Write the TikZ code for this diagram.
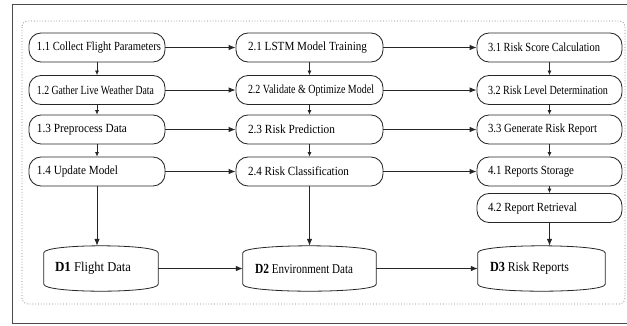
\documentclass[tikz,border=0pt]{standalone}
\usepackage{fontspec}
\setmainfont{Liberation Serif}
\usetikzlibrary{arrows.meta}
\definecolor{linec}{HTML}{262626}
\definecolor{framec}{HTML}{4A4A4A}
\newcommand\fitw[2]{\resizebox{#1bp}{\height}{#2}}
\newcommand\ta[2]{\makebox[120bp][l]{\fitw{#1}{#2}}}
\newcommand\tb[2]{\makebox[123bp][l]{\fitw{#1}{#2}}}
\newcommand\tc[2]{\makebox[123bp][l]{\fitw{#1}{#2}}}
\newcommand\dlab[4]{\makebox[#1bp][l]{\raisebox{-2.5bp}{\fitw{#2}{{\fontsize{14}{16}\selectfont\bfseries #3} #4}}}}
\newcommand\cylshape[1]{%
  \draw[linec, line width=0.8bp]
    ([yshift=-7bp]#1.north west) .. controls ([yshift=2.33bp]#1.north west) and ([yshift=2.33bp]#1.north east) .. ([yshift=-7bp]#1.north east)
    -- ([yshift=7bp]#1.south east) .. controls ([yshift=-2.33bp]#1.south east) and ([yshift=-2.33bp]#1.south west) .. ([yshift=7bp]#1.south west)
    -- cycle;}
\begin{document}
\begin{tikzpicture}[x=1bp,y=-1bp,
  proc/.style={draw=linec, line width=0.85bp, rounded corners=12bp, minimum height=29bp, inner ysep=0pt, font=\fontsize{12.5}{14}\selectfont, text=black},
  colA/.style={proc, minimum width=136bp, inner xsep=8bp},
  colB/.style={proc, minimum width=147bp, inner xsep=12bp},
  colC/.style={proc, minimum width=145bp, inner xsep=11bp},
  store/.style={draw=none, minimum height=45bp, inner ysep=0pt, font=\fontsize{13.5}{15}\selectfont},
  flow/.style={draw=linec, line width=0.85bp, -{Latex[length=7bp,width=5.5bp]}},
  sflow/.style={draw=linec, line width=0.7bp, -{Latex[length=4.5bp,width=4bp]}}]
\useasboundingbox (0,0) rectangle (627,325);
\clip (0,0) rectangle (627,325);
\fill[white] (0,0) rectangle (627,325);
\draw[framec, line width=1bp] (12,4) rectangle (660,323.5);
\draw[gray, dotted, line width=0.8bp, rounded corners=6bp] (22,21) rectangle (625,304);

% column 1
\node[colA] (b11) at (97,47.5) {\ta{124}{1.1 Collect Flight Parameters}};
\node[colA] (b12) at (97,90) {\ta{117}{1.2 Gather Live Weather Data}};
\node[colA] (b13) at (97,129.5) {\ta{90}{1.3 Preprocess Data}};
\node[colA] (b14) at (97,171.5) {\ta{81}{1.4 Update Model}};
% column 2
\node[colB] (b21) at (309.5,47.5) {\tb{119}{2.1 LSTM Model Training}};
\node[colB] (b22) at (309.5,90) {\tb{126}{2.2 Validate \& Optimize Model}};
\node[colB] (b23) at (309.5,129.5) {\tb{87}{2.3 Risk Prediction}};
\node[colB] (b24) at (309.5,171.5) {\tb{101}{2.4 Risk Classification}};
% column 3
\node[colC] (b31) at (549.5,47.5) {\tc{112}{3.1 Risk Score Calculation}};
\node[colC] (b32) at (549.5,90) {\tc{120}{3.2 Risk Level Determination}};
\node[colC] (b33) at (549.5,129.5) {\tc{109}{3.3 Generate Risk Report}};
\node[colC] (b41) at (549.5,171.5) {\tc{86}{4.1 Reports Storage}};
\node[colC] (b42) at (549.5,208) {\tc{89}{4.2 Report Retrieval}};
% data stores
\node[store, minimum width=114bp, inner xsep=11bp] (d1) at (101,268.5) {\dlab{92}{76}{D1}{Flight Data}};
\node[store, minimum width=133bp, inner xsep=12bp] (d2) at (309.5,268.5) {\dlab{109}{98}{D2}{Environment Data}};
\node[store, minimum width=127bp, inner xsep=12bp] (d3) at (541.5,268.5) {\dlab{103}{79}{D3}{Risk Reports}};
\cylshape{d1}
\cylshape{d2}
\cylshape{d3}

% vertical small arrows
\draw[sflow] (b11) -- (b12);
\draw[sflow] (b12) -- (b13);
\draw[sflow] (b13) -- (b14);
\draw[sflow] (b21) -- (b22);
\draw[sflow] (b22) -- (b23);
\draw[sflow] (b23) -- (b24);
\draw[sflow] (b31) -- (b32);
\draw[sflow] (b32) -- (b33);
\draw[sflow] (b33) -- (b41);
\draw[sflow] (b41) -- (b42);
% horizontal arrows
\draw[flow] (b11) -- (b21);
\draw[flow] (b12) -- (b22);
\draw[flow] (b13) -- (b23);
\draw[flow] (b14) -- (b24);
\draw[flow] (b21) -- (b31);
\draw[flow] (b22) -- (b32);
\draw[flow] (b23) -- (b33);
\draw[flow] (b24) -- (b41);
% to data stores
\draw[flow] (b14.south) -- (b14.south |- d1.north);
\draw[flow] (b24.south) -- (b24.south |- d2.north);
\draw[flow] (b42.south) -- (b42.south |- d3.north);
\draw[flow] (d1.east) -- (d2.west);
\draw[flow] (d2.east) -- (d3.west);
\end{tikzpicture}
\end{document}
